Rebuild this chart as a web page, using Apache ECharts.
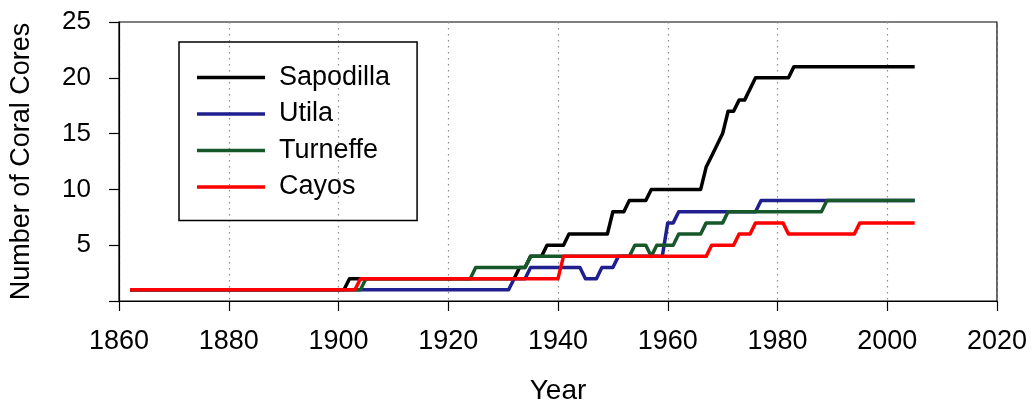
<!DOCTYPE html>
<html>
<head>
<meta charset="utf-8">
<script src="https://cdn.jsdelivr.net/npm/echarts@6/dist/echarts.min.js"></script>
<style>
  html, body { margin: 0; padding: 0; background: #fff; }
  #chart { width: 1033px; height: 410px; }
</style>
</head>
<body>
<div id="chart"></div>
<script>
// Cumulative number of coral cores per site: [year, cores] at each bend of the record
const sapodilla = [
  [1862, 1], [1901, 1], [1902, 2], [1932, 2], [1933, 3], [1934, 3], [1935, 4], [1937, 4],
  [1938, 5], [1941, 5], [1942, 6], [1949, 6], [1950, 8], [1952, 8], [1953, 9], [1956, 9],
  [1957, 10], [1966, 10], [1967, 12], [1968, 13], [1969, 14], [1970, 15], [1971, 17],
  [1972, 17], [1973, 18], [1974, 18], [1976, 20], [1982, 20], [1983, 21], [2005, 21]
];
const utila = [
  [1862, 1], [1931, 1], [1932, 2], [1934, 2], [1935, 3], [1944, 3], [1945, 2], [1947, 2],
  [1948, 3], [1950, 3], [1951, 4], [1959, 4], [1960, 7], [1961, 7], [1962, 8], [1976, 8],
  [1977, 9], [2005, 9]
];
const turneffe = [
  [1862, 1], [1904, 1], [1905, 2], [1924, 2], [1925, 3], [1934, 3], [1935, 4], [1953, 4],
  [1954, 5], [1956, 5], [1957, 4], [1958, 5], [1961, 5], [1962, 6], [1966, 6], [1967, 7],
  [1970, 7], [1971, 8], [1988, 8], [1989, 9], [2005, 9]
];
const cayos = [
  [1862, 1], [1903, 1], [1904, 2], [1940, 2], [1941, 4], [1967, 4], [1968, 5], [1972, 5],
  [1973, 6], [1975, 6], [1976, 7], [1981, 7], [1982, 6], [1994, 6], [1995, 7], [2005, 7]
];

const siteNames = ['Sapodilla', 'Utila', 'Turneffe', 'Cayos'];
const siteColors = ['#000000', '#1f1f8f', '#17582a', '#ff0000'];
const siteData = [sapodilla, utila, turneffe, cayos];

const FONT = '"Liberation Sans", Arial, sans-serif';

const chart = echarts.init(document.getElementById('chart'), null, { renderer: 'canvas' });

chart.setOption({
  animation: false,
  backgroundColor: '#ffffff',
  textStyle: { fontFamily: FONT, color: '#000' },
  grid: {
    left: 117, right: 36, top: 22, bottom: 107,
    show: true, borderColor: '#000', borderWidth: 1.2, backgroundColor: 'transparent'
  },
  legend: {
    orient: 'vertical',
    left: 179, top: 42,
    data: siteNames.map(n => ({ name: n, icon: 'rect' })),
    borderColor: '#000', borderWidth: 1.5,
    padding: [22, 27, 20, 18],
    itemWidth: 68, itemHeight: 3.5, itemGap: 9.5,
    textStyle: { fontSize: 27, lineHeight: 27, color: '#000', fontFamily: FONT, padding: [0, 0, 0, 9] }
  },
  xAxis: {
    type: 'value',
    min: 1860, max: 2020, interval: 20,
    name: 'Year', nameLocation: 'middle', nameGap: 76,
    nameTextStyle: { fontSize: 28, color: '#000', fontFamily: FONT },
    axisLine: { show: true, onZero: false, lineStyle: { color: '#000', width: 1.2 } },
    axisTick: { show: true, inside: false, length: 10, lineStyle: { color: '#000', width: 1.2 } },
    axisLabel: {
      fontSize: 27, color: '#000', margin: 27, fontFamily: FONT,
      showMinLabel: true, showMaxLabel: true,
      formatter: v => String(v)
    },
    splitLine: { show: true, lineStyle: { type: [1.5, 4.5], color: '#8a8a8a', width: 1.2 } }
  },
  yAxis: {
    type: 'value',
    min: 0, max: 25, interval: 5,
    name: 'Number of Coral Cores', nameLocation: 'middle', nameGap: 84, nameRotate: 90,
    nameTextStyle: { fontSize: 27, color: '#000', fontFamily: FONT },
    axisLine: { show: true, lineStyle: { color: '#000', width: 1.2 } },
    axisTick: { show: true, inside: false, length: 10, lineStyle: { color: '#000', width: 1.2 } },
    axisLabel: {
      fontSize: 26, color: '#000', margin: 28, fontFamily: FONT,
      formatter: v => (v === 0 ? '' : String(v))
    },
    splitLine: { show: false }
  },
  series: siteNames.map((name, i) => ({
    name,
    type: 'line',
    data: siteData[i],
    symbol: 'none',
    color: siteColors[i],
    lineStyle: { color: siteColors[i], width: 3.5, join: 'round' },
    z: 2 + i
  }))
});
</script>
</body>
</html>
